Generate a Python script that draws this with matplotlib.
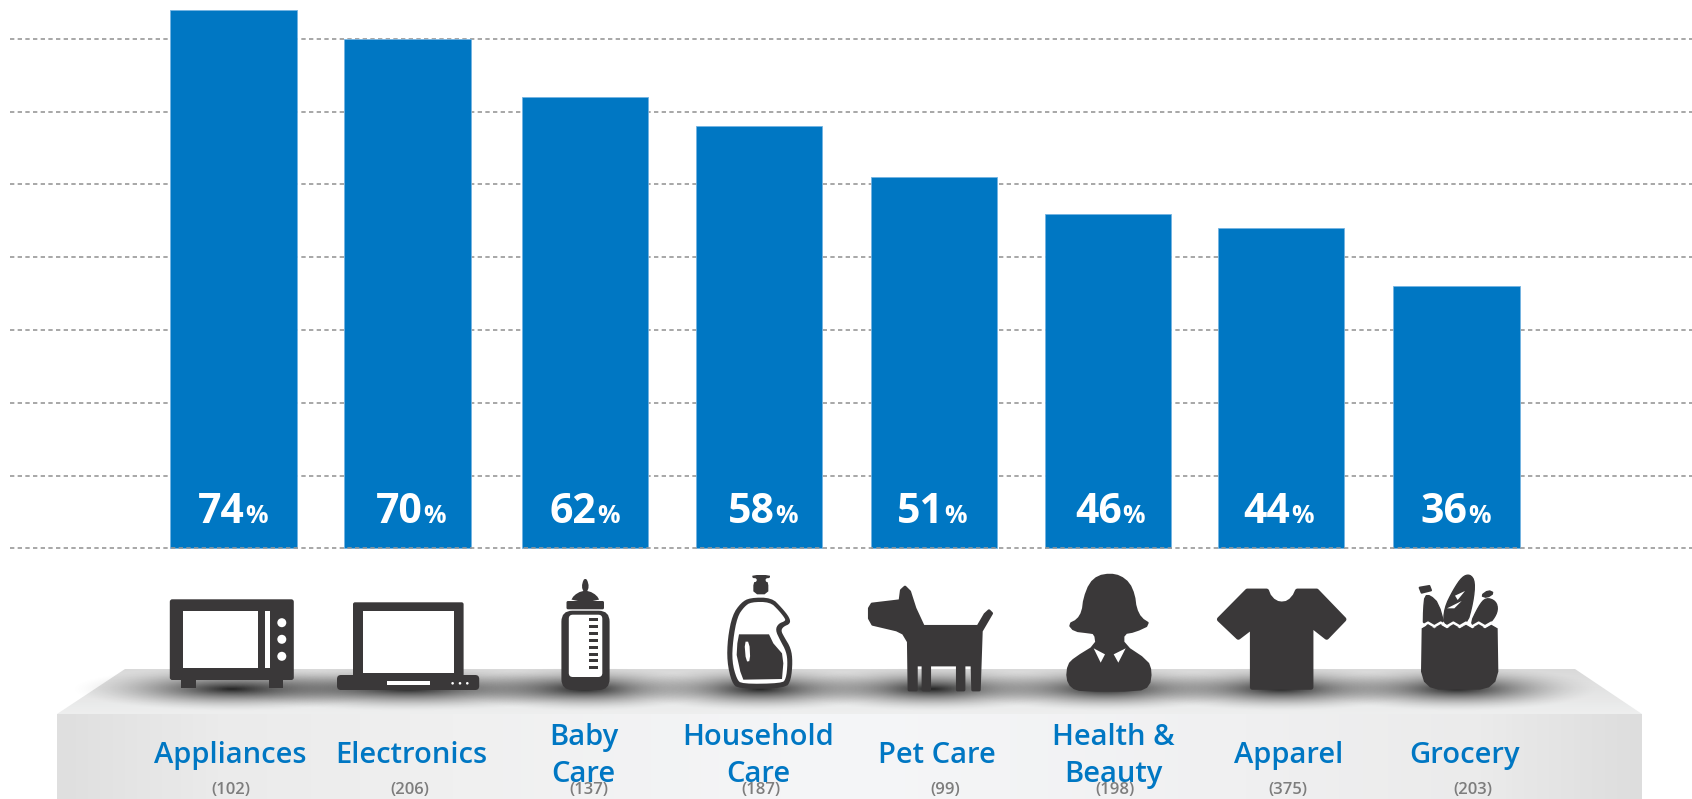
"""
Share-of-shoppers bar chart by product category, with an icon shelf below the bars.
"""
import numpy as np
import matplotlib
matplotlib.use("Agg")
import matplotlib.pyplot as plt
from matplotlib.patches import Polygon, Ellipse, FancyBboxPatch, Rectangle
from matplotlib.colors import LinearSegmentedColormap

plt.rcParams["font.family"] = ["Open Sans", "DejaVu Sans"]

categories = ["Appliances", "Electronics", "Baby\nCare", "Household\nCare",
              "Pet Care", "Health &\nBeauty", "Apparel", "Grocery"]
percents = [74, 70, 62, 58, 51, 46, 44, 36]
counts = [102, 206, 137, 187, 99, 198, 375, 203]
grid_values = [0, 10, 20, 30, 40, 50, 60, 70]

WIDTH, HEIGHT = 1692, 799
BASELINE = 548.4
PX_PER_PCT = 7.28

BLUE = "#0077c3"
DARK = "#3a3839"
GREY = "#7d7d7d"

bar_x = [233.25, 407.5, 585, 759, 934, 1108, 1281, 1456.5]
pct_x = [233.5, 411, 585, 763.5, 932.5, 1110, 1279, 1456]
name_x = [230.5, 411, 583.5, 758, 936.5, 1113, 1288.5, 1464.5]
count_x = [230.5, 410, 589, 761, 945, 1115, 1288, 1472.5]
shadow_x = [232, 408, 585, 760, 932, 1106, 1281, 1457]
shadow_w = [330, 390, 270, 270, 290, 290, 290, 290]


def smooth(points, n=2):
    """Round a closed outline by corner cutting."""
    pts = np.asarray(points, dtype=float)
    for _ in range(n):
        nxt = np.roll(pts, -1, axis=0)
        pts = np.column_stack([0.75 * pts + 0.25 * nxt, 0.25 * pts + 0.75 * nxt]).reshape(-1, 2)
    return pts


def outline(ax, points, origin, color=DARK, n=2, zorder=5, stroke=0.0):
    """Draw an outline given in 3x crop coordinates relative to origin."""
    pts = np.asarray(points, dtype=float) / 3.0 + origin
    if n:
        pts = smooth(pts, n)
    ax.add_patch(Polygon(pts, closed=True, fc=color, ec=color if stroke else "none",
                         lw=stroke, joinstyle="round", zorder=zorder))


def box(ax, x0, y0, x1, y1, color=DARK, r=1.5, zorder=5):
    ax.add_patch(FancyBboxPatch((x0 + r, y0 + r), x1 - x0 - 2 * r, y1 - y0 - 2 * r,
                                boxstyle=f"round,pad={r},rounding_size={r}",
                                fc=color, ec="none", zorder=zorder))


def draw_platform(ax):
    top = Polygon([(125, 669), (1575, 669), (1642, 714), (57, 714)], fc="none", ec="none")
    front = Rectangle((57, 714), 1585, 85, fc="none", ec="none")
    ax.add_patch(top)
    ax.add_patch(front)

    top_cmap = LinearSegmentedColormap.from_list("top", ["#d9d9d9", "#e4e4e4", "#eeefef"])
    im = ax.imshow(np.linspace(0, 1, 64)[:, None], cmap=top_cmap, aspect="auto",
                   extent=(57, 1642, 714, 669), zorder=1)
    im.set_clip_path(top)

    front_cmap = LinearSegmentedColormap.from_list(
        "front", [(0, "#dfdfdf"), (0.1, "#ebebeb"), (0.25, "#f0f0f0"), (0.5, "#f5f6f8"),
                  (0.75, "#f0f0f1"), (0.9, "#ebebeb"), (1, "#dddddd")])
    im = ax.imshow(np.linspace(0, 1, 256)[None, :], cmap=front_cmap, aspect="auto",
                   extent=(57, 1642, 799, 714), zorder=1)
    im.set_clip_path(front)


def draw_shadow(ax, cx, w, cy=689, h=46):
    xx = np.linspace(-1, 1, 200)
    yy = np.linspace(-1, 1, 60)
    gx, gy = np.meshgrid(xx, yy)
    dist = np.sqrt(gx ** 2 + gy ** 2)
    alpha = 0.85 * np.clip(1 - dist, 0, 1) ** 1.7
    rgba = np.zeros((60, 200, 4))
    rgba[..., 3] = alpha
    ax.imshow(rgba, aspect="auto", extent=(cx - w / 2, cx + w / 2, cy + h / 2, cy - h / 2), zorder=2)


def draw_microwave(ax):
    box(ax, 169.8, 599.3, 293.8, 680, r=2.5)
    ax.add_patch(Rectangle((181.3, 680), 14.2, 8, fc=DARK, zorder=5))
    ax.add_patch(Rectangle((269, 680), 14.2, 8, fc=DARK, zorder=5))
    ax.add_patch(Rectangle((183, 611), 75.4, 56.7, fc="white", zorder=6))
    ax.add_patch(Rectangle((265.3, 611), 4.7, 56.7, fc="white", zorder=6))
    for y in (622.7, 639.3, 656.3):
        ax.add_patch(Ellipse((281.8, y), 9, 9, fc="white", zorder=6))


def draw_laptop(ax):
    box(ax, 353, 602.3, 463.6, 680, r=2)
    ax.add_patch(Rectangle((362.6, 611.3), 91.4, 61.4, fc="white", zorder=6))
    box(ax, 337, 675, 479.2, 690, r=4)
    ax.add_patch(Rectangle((386.5, 681), 43.2, 4, fc="white", zorder=6))
    for x in (452.6, 460, 467.3):
        ax.add_patch(Ellipse((x, 683.3), 2.6, 2.6, fc="white", zorder=6))


def draw_bottle(ax):
    box(ax, 561.4, 610.7, 609.6, 690, r=11)
    box(ax, 566.5, 601, 604, 609.3, r=1.5)
    outline(ax, [(-44, 3), (-34, -14), (-12, -27), (12, -27), (34, -14), (44, 3)],
            (585.3, 600), n=1)
    outline(ax, [(-6, -60), (-11, -40), (-5, -24), (5, -24), (11, -40), (6, -60), (0, -64)],
            (585.3, 600), n=1)
    box(ax, 568.8, 614.7, 602.3, 677, color="white", r=4, zorder=6)
    for y in (618.3, 625, 632.3, 639, 646, 652.7, 659.3, 666):
        ax.add_patch(Rectangle((589, y), 9, 2.8, fc=DARK, zorder=7))


def draw_detergent(ax):
    org = (715, 565)
    outline(ax, [(112, 30), (165, 30), (165, 39), (152, 40), (152, 50), (160, 52), (160, 88),
                 (115, 88), (115, 52), (125, 50), (125, 40), (112, 39)], org, n=1)
    outline(ax, [(105, 98), (170, 98), (200, 128), (224, 158), (226, 176), (205, 185), (198, 197),
                 (207, 215), (228, 250), (233, 290), (228, 345), (212, 370), (70, 372), (50, 352),
                 (36, 290), (38, 220), (52, 150), (78, 113)], org)
    outline(ax, [(108, 111), (165, 111), (190, 135), (210, 160), (211, 168), (190, 176), (181, 195),
                 (195, 225), (214, 260), (218, 295), (213, 342), (200, 355), (80, 357), (65, 342),
                 (51, 290), (54, 225), (67, 155), (88, 125)], org, color="white", zorder=6)
    outline(ax, [(72, 208), (162, 208), (175, 235), (201, 265), (205, 295), (201, 342), (85, 344),
                 (76, 320), (65, 270), (67, 235)], org, n=0, zorder=7)
    outline(ax, [(88, 230), (103, 230), (106, 288), (93, 290)], org, color="white", zorder=8, n=1)


def draw_dog(ax):
    org = (860, 575)
    outline(ax, [(36, 87), (120, 77), (124, 46), (135, 36), (149, 50), (165, 100), (190, 154),
                 (354, 154), (375, 118), (387, 107), (395, 115), (364, 168), (358, 345), (338, 345),
                 (336, 270), (312, 270), (312, 345), (292, 345), (292, 270), (209, 270), (209, 345),
                 (189, 345), (189, 270), (169, 270), (169, 345), (147, 345), (145, 200), (130, 175),
                 (110, 165), (38, 148), (28, 130), (28, 100)], org, n=0, stroke=2.0)


def draw_woman(ax):
    org = (1055, 565)
    outline(ax, [(165, 28), (130, 34), (105, 56), (88, 100), (83, 140), (68, 165), (42, 178),
                 (58, 197), (100, 202), (120, 205), (125, 240), (60, 280), (40, 300), (36, 340),
                 (50, 367), (80, 377), (250, 377), (282, 362), (288, 320), (277, 288), (205, 240),
                 (205, 205), (240, 199), (285, 178), (257, 160), (242, 130), (237, 90), (222, 55),
                 (195, 34)], org, n=1, stroke=1.5)
    outline(ax, [(116, 250), (150, 268), (137, 293)], org, color="white", n=0, zorder=6)
    outline(ax, [(212, 250), (176, 268), (190, 293)], org, color="white", n=0, zorder=6)


def draw_shirt(ax):
    org = (1210, 580)
    outline(ax, [(112, 33), (170, 33), (176, 48), (188, 62), (202, 70), (215, 72), (230, 70),
                 (243, 62), (255, 48), (262, 33), (320, 33), (402, 118), (350, 172), (303, 135),
                 (303, 322), (127, 322), (127, 140), (85, 172), (28, 118)], org, n=0, stroke=3.5)


def draw_grocery(ax):
    org = (1405, 565)
    # goods first, the bag with its white wavy rim goes on top
    outline(ax, [(60, 92), (76, 92), (100, 115), (120, 185), (55, 185), (56, 130)], org, n=1, stroke=1)
    outline(ax, [(44, 68), (73, 63), (78, 76), (50, 83)], org, n=0, stroke=1.5)
    outline(ax, [(118, 130), (145, 75), (172, 35), (195, 28), (210, 50), (204, 112), (184, 185),
                 (116, 185)], org, stroke=1)
    outline(ax, [(150, 92), (180, 78), (158, 105)], org, color="white", n=0, zorder=6)
    outline(ax, [(126, 130), (170, 108), (148, 130)], org, color="white", n=0, zorder=6)
    outline(ax, [(192, 185), (222, 122), (243, 98), (272, 108), (279, 135), (264, 165), (240, 185)],
            org, stroke=1)
    outline(ax, [(228, 92), (250, 76), (267, 84), (246, 98)], org, n=1, stroke=1)

    wave_x = np.linspace(50, 278, 13)
    wave = [(x, 190 if i % 2 == 0 else 179) for i, x in enumerate(wave_x)]
    outline(ax, wave + [(280, 320), (271, 350), (252, 367), (225, 374), (100, 374), (75, 367),
                        (57, 350), (48, 320)], org, n=0, zorder=7)
    rim = np.array(wave, dtype=float) / 3.0 + org
    ax.plot(rim[:, 0], rim[:, 1] - 2, color="white", lw=1.8, zorder=7)


fig = plt.figure(figsize=(WIDTH / 100, HEIGHT / 100), dpi=100)

# bars live on a percent scale, everything else on a pixel overlay
ax = fig.add_axes([0, 0, 1, 1])
ax.set_xlim(0, WIDTH)
ax.set_ylim(-(HEIGHT - BASELINE) / PX_PER_PCT, BASELINE / PX_PER_PCT)
ax.axis("off")

ax.hlines(grid_values[1:], 10, WIDTH, color="#989898", lw=1.2, linestyles=(0, (2.6, 2)), zorder=1)
ax.bar(bar_x, percents, width=126.5, color=BLUE, edgecolor="#74b4e2", linewidth=0.6, zorder=2)
ax.hlines(grid_values[0], 10, WIDTH, color="#989898", lw=1.2, linestyles=(0, (2.6, 2)), zorder=3)

deco = fig.add_axes([0, 0, 1, 1])
deco.patch.set_alpha(0)
deco.axis("off")

draw_platform(deco)
for cx, w in zip(shadow_x, shadow_w):
    draw_shadow(deco, cx, w)
for draw in (draw_microwave, draw_laptop, draw_bottle, draw_detergent,
             draw_dog, draw_woman, draw_shirt, draw_grocery):
    draw(deco)

deco.set_xlim(0, WIDTH)
deco.set_ylim(HEIGHT, 0)

for x, pct in zip(pct_x, percents):
    deco.text(x + 11.5, 523, str(pct), color="white", fontsize=29.5, fontweight="bold",
              ha="right", va="baseline", zorder=8)
    deco.text(x + 12, 523, "%", color="white", fontsize=18, fontweight="bold",
              ha="left", va="baseline", zorder=8)

for x, name in zip(name_x, categories):
    lines = name.split("\n")
    baselines = [745, 781.7] if len(lines) == 2 else [762.7]
    for line, y in zip(lines, baselines):
        deco.text(x, y, line, color=BLUE, fontsize=21, fontweight="semibold",
                  ha="center", va="baseline", zorder=8)

for x, n in zip(count_x, counts):
    deco.text(x, 790, f"({n})", color=GREY, fontsize=12, fontweight="semibold",
              ha="center", va="center", zorder=9)

fig.savefig("out.png", dpi=100)
